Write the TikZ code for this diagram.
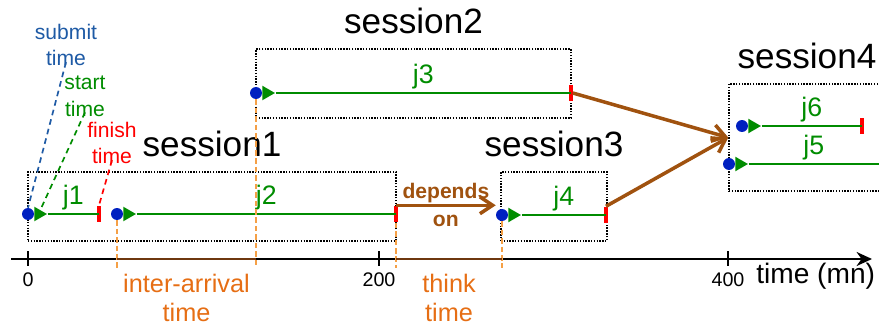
\documentclass[tikz,border=0pt]{standalone}
\usepackage{fontspec}
\setmainfont{Liberation Sans}
\usetikzlibrary{
		calc,
		positioning,
		arrows.meta,
		shapes.geometric,
		fit
	}
\tikzset{
		>=stealth
	}
\definecolor{dotblue}{RGB}{0,32,192}
\definecolor{jobgreen}{RGB}{0,140,0}
\definecolor{noteblue}{RGB}{30,90,165}
\definecolor{depbrown}{RGB}{160,82,15}
\definecolor{spanorange}{RGB}{230,110,20}
\definecolor{dashorange}{RGB}{245,160,70}
\definecolor{axbrown}{RGB}{110,55,15}

\begin{document}
\begin{tikzpicture}[x=0.025cm, y=-0.025cm,
	subdot/.style={circle, fill=dotblue, inner sep=0, minimum size=8.5pt},
	startmark/.style={isosceles triangle, isosceles triangle apex angle=60, fill=jobgreen, inner sep=0, minimum size=9pt, anchor=west},
	endbar/.style={fill=red, inner sep=0, minimum width=2.2pt, minimum height=12pt},
	jobline/.style={jobgreen, line width=1.4pt},
	jlab/.style={midway, anchor=base, yshift=7pt, text=jobgreen, font=\fontsize{19}{21}\selectfont},
	sessbox/.style={draw, dash pattern=on 1pt off 1pt, line width=1pt, inner sep=0},
	sesslab/.style={inner sep=0, font=\fontsize{25}{28}\selectfont},
	dep/.style={depbrown, line width=2.5pt, -{Straight Barb[length=9pt, width=12pt]}},
	deplab/.style={midway, align=center, text=depbrown, font=\fontsize{15}{20}\selectfont\bfseries},
	note/.style={align=center, inner sep=1pt, font=\fontsize{15}{19}\selectfont},
	notedash/.style={dash pattern=on 4pt off 3pt, line width=1.2pt},
	gap/.style={dashorange, dash pattern=on 4pt off 2pt, line width=1.2pt},
	spanlab/.style={anchor=north, align=center, inner sep=0, yshift=-4pt, text=spanorange, font=\fontsize{18}{21}\selectfont},
	tick/.style={line width=1.4pt},
	ticklab/.style={anchor=north, inner sep=0, font=\fontsize{14}{16}\selectfont}]

	\useasboundingbox (0,0) rectangle (879,327);
	\clip (0,0) rectangle (879,327);

	% sessions
	\node[sessbox, fit={(28,172) (396,241)}] (s1) {};
	\node[sessbox, fit={(256,49) (571,118)}] (s2) {};
	\node[sessbox, fit={(501,172) (607,241)}] (s3) {};
	\node[sessbox, fit={(729,84) (885,191)}] (s4) {};
	\node[sesslab, above=10pt of s1] (s1lab) {session1};
	\node[sesslab, above=10pt of s2] (s2lab) {session2};
	\node[sesslab, above=10pt of s3] (s3lab) {session3};
	\node[sesslab, above=10pt of s4] (s4lab) {session4};

	% time axis
	\coordinate (axL) at (11,259);
	\coordinate (axR) at (872,259);
	\coordinate (axlow) at (0,268);
	\draw[line width=1.4pt, -{Stealth[length=11pt, width=10pt]}] (axL) -- (axR);
	\foreach \t/\x in {0/28, 200/379, 400/728} {
		\draw[tick] (\x,251) -- (\x,266);
		\node[ticklab] (tl\t) at (\x,272) {\t};
	}
	\node[anchor=west, inner sep=0, font=\fontsize{20}{23}\selectfont] (tlab) at (756,276) {time (mn)};

	% jobs
	\node[subdot] (d1) at (28,214) {};
	\node[startmark] (t1) at (34,214) {};
	\node[endbar] (e1) at (99,214) {};
	\draw[jobline] (t1.apex) -- node[jlab] {j1} (e1.center);

	\node[subdot] (d2) at (117,214) {};
	\node[startmark] (t2) at (123,214) {};
	\node[endbar] (e2) at (396,214) {};
	\draw[jobline] (t2.apex) -- node[jlab] {j2} (e2.center);

	\node[subdot] (d3) at (256,93) {};
	\node[startmark] (t3) at (262,93) {};
	\node[endbar] (e3) at (571,93) {};
	\draw[jobline] (t3.apex) -- node[jlab] {j3} (e3.center);

	\node[subdot] (d4) at (502,215) {};
	\node[startmark] (t4) at (508,215) {};
	\node[endbar] (e4) at (606,215) {};
	\draw[jobline] (t4.apex) -- node[jlab] {j4} (e4.center);

	\node[subdot] (d6) at (742,126) {};
	\node[startmark] (t6) at (748,126) {};
	\node[endbar] (e6) at (862,126) {};
	\draw[jobline] (t6.apex) -- node[jlab] {j6} (e6.center);

	\node[subdot] (d5) at (729,164) {};
	\node[startmark] (t5) at (735,164) {};
	\coordinate (e5) at (879,164);
	\draw[jobline] (t5.apex) -- node[jlab] {j5} (e5);

	% gaps between jobs
	\draw[gap] (d2.south) -- (d2 |- axlow);
	\draw[gap] (d3.south) -- (d3 |- axlow);
	\draw[gap] (e2.south) -- (e2 |- axlow);
	\draw[gap] (d4.south) -- (d4 |- axlow);
	\draw[axbrown, line width=1pt] (d2 |- axL) -- (d3 |- axL);
	\draw[axbrown, line width=1pt] (e2 |- axL) -- (d4 |- axL);
	\node[spanlab] (iat) at ($(d2 |- axlow)!0.5!(d3 |- axlow)$) {inter-arrival\\time};
	\node[spanlab] (tht) at ($(e2 |- axlow)!0.5!(d4 |- axlow)$) {think\\time};

	% dependencies
	\draw[dep] (e2.north) -- node[deplab] {depends\\on} (e2.north -| d4.west);
	\draw[dep] (e3.east) -- (s4.west);
	\draw[dep] (e4.north) -- (s4.west);

	% notes on j1
	\node[note, text=noteblue] (sub) at (66,45) {submit\\time};
	\node[note, text=jobgreen] (sta) at (85,96) {start\\time};
	\node[note, text=red] (fin) at (112,143) {finish\\time};
	\draw[notedash, noteblue] ([yshift=4pt]sub.south) -- (d1.north);
	\draw[notedash, jobgreen] ([yshift=4pt]sta.south) -- (t1.center);
	\draw[notedash, red] ([yshift=4pt]fin.south) -- (e1.north);
\end{tikzpicture}
\end{document}
